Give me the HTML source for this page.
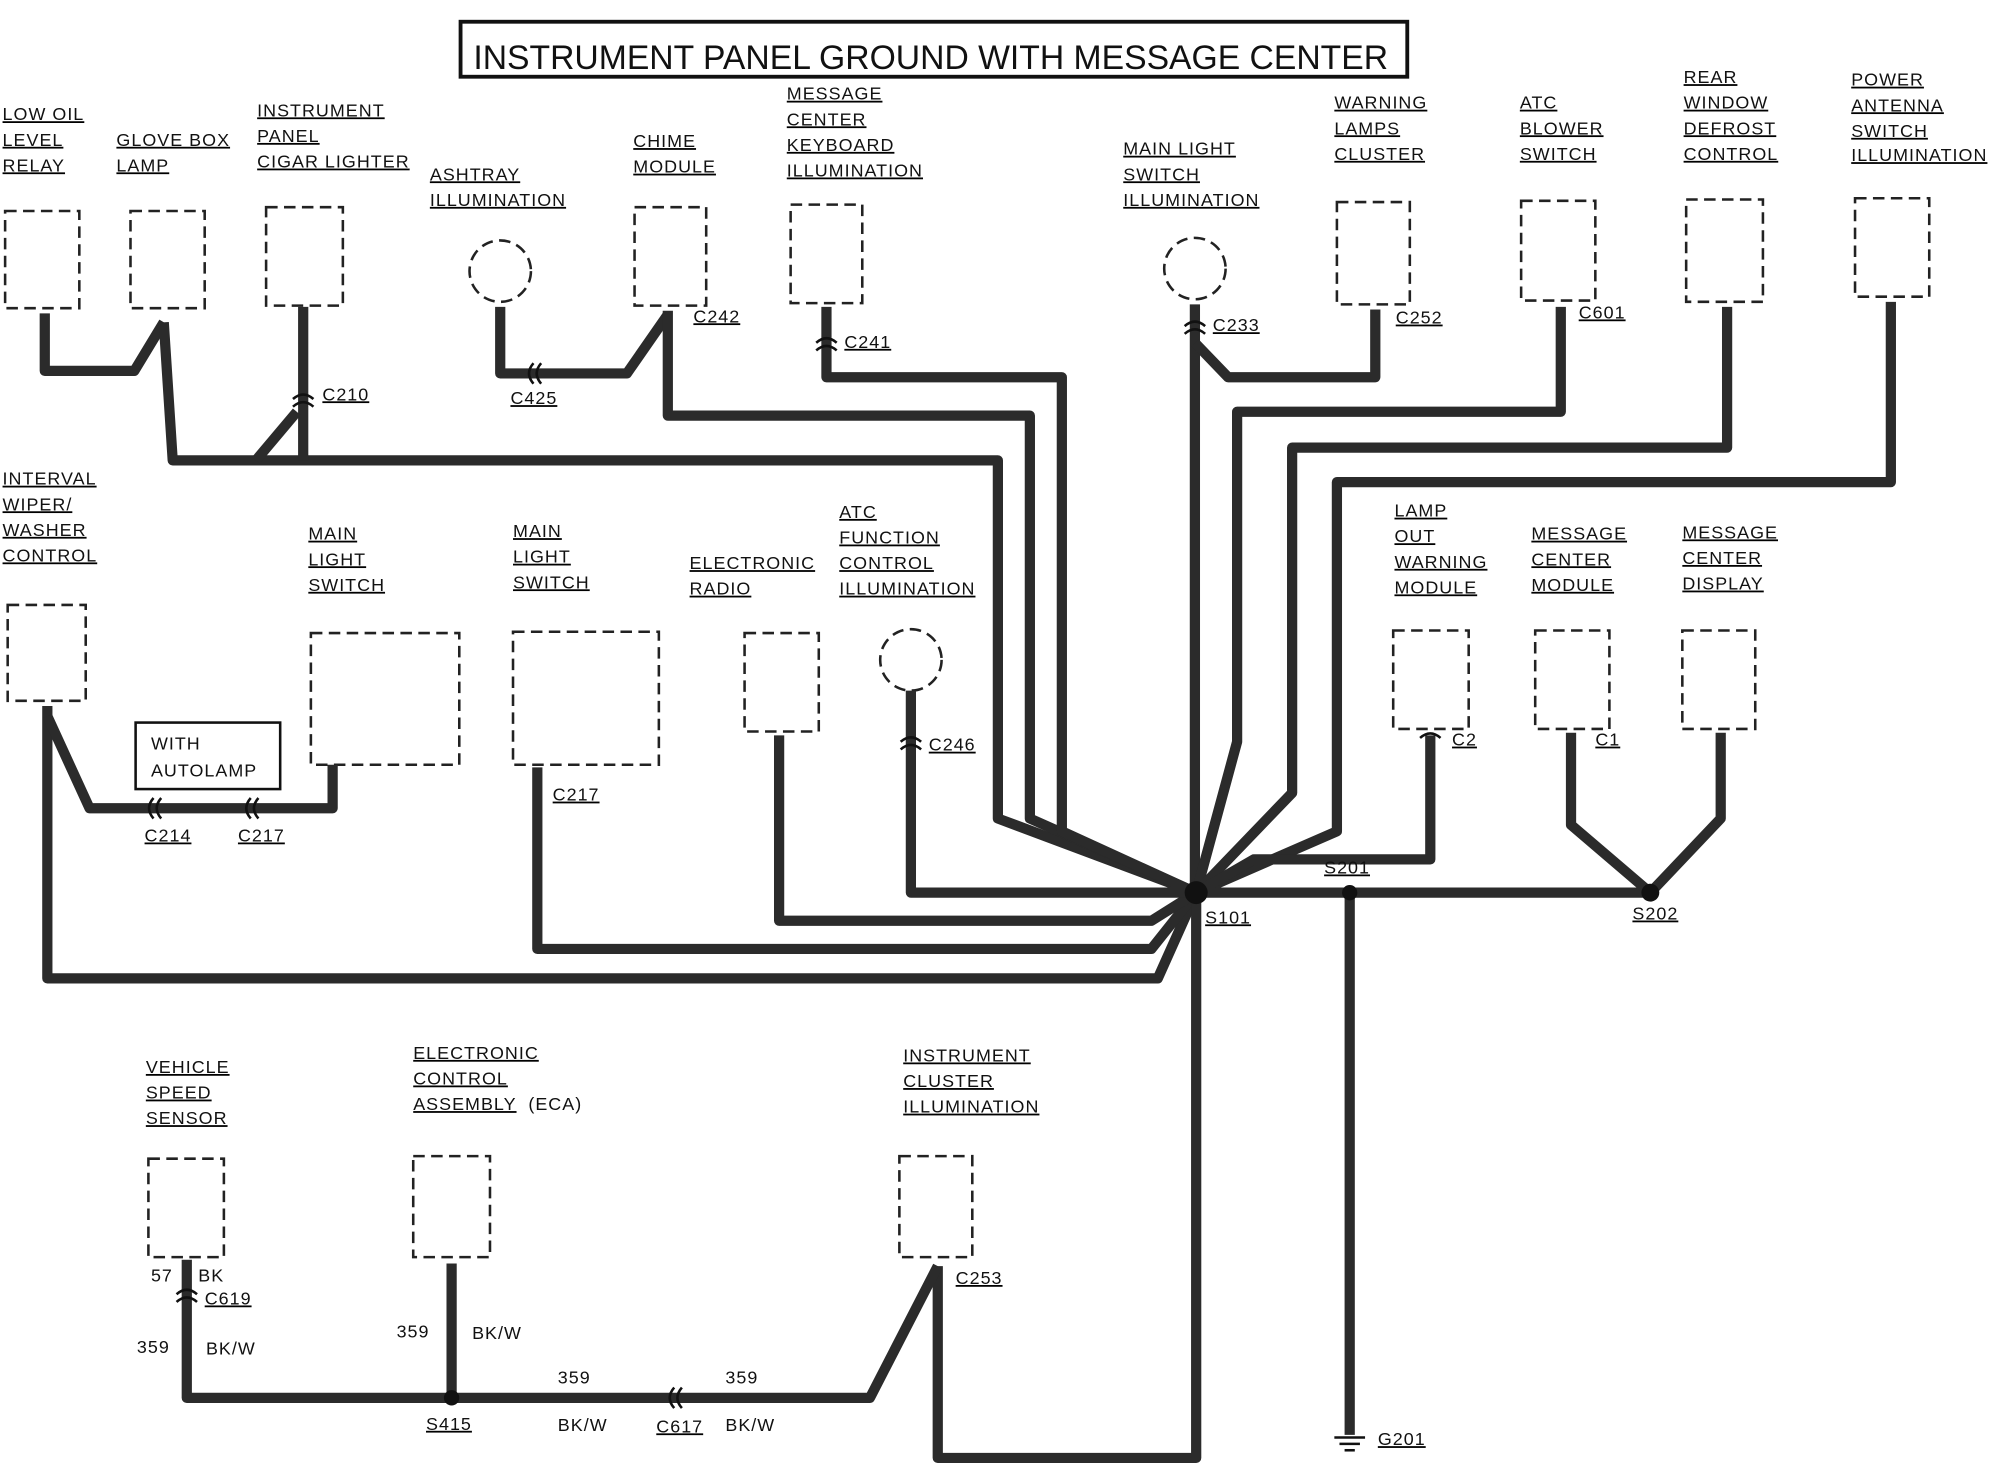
<!DOCTYPE html>
<html><head><meta charset="utf-8"><style>
html,body{margin:0;padding:0;background:#fff}
svg{display:block}
text{font-family:"Liberation Sans",sans-serif;font-size:14px;fill:#111;letter-spacing:0.8px}
.l{text-decoration:underline}
.b{fill:none;stroke:#222;stroke-width:2;stroke-dasharray:9,5}
.w{fill:none;stroke:#2b2b2b;stroke-width:8;stroke-linejoin:round}
</style></head><body>
<svg width="2006" height="1472" viewBox="0 0 1568 1151" preserveAspectRatio="none" xmlns="http://www.w3.org/2000/svg">
<rect x="360" y="17" width="740" height="43" fill="none" stroke="#111" stroke-width="3"/>
<text x="370" y="54" textLength="715" lengthAdjust="spacingAndGlyphs" style="font-size:27px;letter-spacing:0">INSTRUMENT PANEL GROUND WITH MESSAGE CENTER</text>

<!-- boxes -->
<rect class="b" x="4" y="165" width="58" height="76"/>
<rect class="b" x="102" y="165" width="58" height="76"/>
<rect class="b" x="208" y="162" width="60" height="77"/>
<circle class="b" cx="391" cy="212" r="24"/>
<rect class="b" x="496" y="162" width="56" height="77"/>
<rect class="b" x="618" y="160" width="56" height="77"/>
<circle class="b" cx="934" cy="210" r="24"/>
<rect class="b" x="1045" y="158" width="57" height="80"/>
<rect class="b" x="1189" y="157" width="58" height="78"/>
<rect class="b" x="1318" y="156" width="60" height="80"/>
<rect class="b" x="1450" y="155" width="58" height="77"/>
<rect class="b" x="6" y="473" width="61" height="75"/>
<rect class="b" x="243" y="495" width="116" height="103"/>
<rect class="b" x="401" y="494" width="114" height="104"/>
<rect class="b" x="582" y="495" width="58" height="77"/>
<circle class="b" cx="712" cy="516" r="24"/>
<rect class="b" x="1089" y="493" width="59" height="77"/>
<rect class="b" x="1200" y="493" width="58" height="77"/>
<rect class="b" x="1315" y="493" width="57" height="77"/>
<rect class="b" x="116" y="906" width="59" height="77"/>
<rect class="b" x="323" y="904" width="60" height="79"/>
<rect class="b" x="703" y="904" width="57" height="79"/>
<rect x="106" y="565" width="113" height="52" fill="none" stroke="#111" stroke-width="2"/>
<text x="118" y="586">WITH</text><text x="118" y="607">AUTOLAMP</text>

<!-- wires -->
<g class="w">
<polyline points="35,245 35,290 105,290 128,252"/>
<polyline points="128,252 135,360 780,360 780,640 935,698"/>
<polyline points="237,240 237,360"/>
<polyline points="200,360 232,322"/>
<polyline points="391,240 391,292 490,292 522,246"/>
<polyline points="522,243 522,325 805,325 805,640 935,698"/>
<polyline points="646,240 646,295 830,295 830,650 935,698"/>
<polyline points="934,238 934,698"/>
<polyline points="1075,242 1075,295 960,295 934,268"/>
<polyline points="1220,240 1220,322 967,322 967,580 935,698"/>
<polyline points="1350,240 1350,350 1010,350 1010,620 935,698"/>
<polyline points="1478,236 1478,377 1045,377 1045,650 935,698"/>
<polyline points="37,552 37,765 905,765 935,698"/>
<polyline points="37,560 70,632 260,632 260,598"/>
<polyline points="420,600 420,742 900,742 935,698"/>
<polyline points="609,575 609,720 900,720 935,698"/>
<polyline points="712,540 712,698 935,698"/>
<polyline points="1118,575 1118,672 980,672 935,698"/>
<polyline points="935,698 1290,698"/>
<polyline points="1228,573 1228,645 1290,698 1345,640 1345,573"/>
<polyline points="1055,698 1055,1122"/>
<polyline points="935,698 935,1140 733,1140 733,990"/>
<polyline points="733,990 680,1093 146,1093 146,985"/>
<polyline points="353,988 353,1093"/>
</g>
<!-- connector marks -->
<g fill="none" stroke="#111" stroke-width="2">
<path d="M229,312 q8,-7 16,0 M229,318 q8,-7 16,0"/>
<path d="M417,284 q-7,8 0,16 M423,284 q-7,8 0,16"/>
<path d="M638,268 q8,-7 16,0 M638,274 q8,-7 16,0"/>
<path d="M926,255 q8,-7 16,0 M926,261 q8,-7 16,0"/>
<path d="M120,624 q-7,8 0,16 M126,624 q-7,8 0,16"/>
<path d="M196,624 q-7,8 0,16 M202,624 q-7,8 0,16"/>
<path d="M704,580 q8,-7 16,0 M704,586 q8,-7 16,0"/>
<path d="M1110,577 q8,-7 16,0"/>
<path d="M138,1012 q8,-7 16,0 M138,1018 q8,-7 16,0"/>
<path d="M527,1085 q-7,8 0,16 M533,1085 q-7,8 0,16"/>
</g>
<g fill="#111">
<circle cx="935" cy="698" r="9"/><circle cx="1055" cy="698" r="6"/><circle cx="1290" cy="698" r="7"/><circle cx="353" cy="1093" r="6"/>
</g>
<g stroke="#111" stroke-width="2">
<line x1="1043" y1="1124" x2="1067" y2="1124"/><line x1="1047" y1="1129" x2="1063" y2="1129"/><line x1="1051" y1="1134" x2="1059" y2="1134"/>
</g>

<!-- labels -->
<g class="l">
<text x="2" y="94">LOW OIL</text><text x="2" y="114">LEVEL</text><text x="2" y="134">RELAY</text>
<text x="91" y="114">GLOVE BOX</text><text x="91" y="134">LAMP</text>
<text x="201" y="91">INSTRUMENT</text><text x="201" y="111">PANEL</text><text x="201" y="131">CIGAR LIGHTER</text>
<text x="336" y="141">ASHTRAY</text><text x="336" y="161">ILLUMINATION</text>
<text x="495" y="115">CHIME</text><text x="495" y="135">MODULE</text>
<text x="615" y="78">MESSAGE</text><text x="615" y="98">CENTER</text><text x="615" y="118">KEYBOARD</text><text x="615" y="138">ILLUMINATION</text>
<text x="878" y="121">MAIN LIGHT</text><text x="878" y="141">SWITCH</text><text x="878" y="161">ILLUMINATION</text>
<text x="1043" y="85">WARNING</text><text x="1043" y="105">LAMPS</text><text x="1043" y="125">CLUSTER</text>
<text x="1188" y="85">ATC</text><text x="1188" y="105">BLOWER</text><text x="1188" y="125">SWITCH</text>
<text x="1316" y="65">REAR</text><text x="1316" y="85">WINDOW</text><text x="1316" y="105">DEFROST</text><text x="1316" y="125">CONTROL</text>
<text x="1447" y="67">POWER</text><text x="1447" y="87">ANTENNA</text><text x="1447" y="107">SWITCH</text><text x="1447" y="126">ILLUMINATION</text>
<text x="2" y="379">INTERVAL</text><text x="2" y="399">WIPER/</text><text x="2" y="419">WASHER</text><text x="2" y="439">CONTROL</text>
<text x="241" y="422">MAIN</text><text x="241" y="442">LIGHT</text><text x="241" y="462">SWITCH</text>
<text x="401" y="420">MAIN</text><text x="401" y="440">LIGHT</text><text x="401" y="460">SWITCH</text>
<text x="539" y="445">ELECTRONIC</text><text x="539" y="465">RADIO</text>
<text x="656" y="405">ATC</text><text x="656" y="425">FUNCTION</text><text x="656" y="445">CONTROL</text><text x="656" y="465">ILLUMINATION</text>
<text x="1090" y="404">LAMP</text><text x="1090" y="424">OUT</text><text x="1090" y="444">WARNING</text><text x="1090" y="464">MODULE</text>
<text x="1197" y="422">MESSAGE</text><text x="1197" y="442">CENTER</text><text x="1197" y="462">MODULE</text>
<text x="1315" y="421">MESSAGE</text><text x="1315" y="441">CENTER</text><text x="1315" y="461">DISPLAY</text>
<text x="114" y="839">VEHICLE</text><text x="114" y="859">SPEED</text><text x="114" y="879">SENSOR</text>
<text x="323" y="828">ELECTRONIC</text><text x="323" y="848">CONTROL</text><text x="323" y="868">ASSEMBLY</text>
<text x="706" y="830">INSTRUMENT</text><text x="706" y="850">CLUSTER</text><text x="706" y="870">ILLUMINATION</text>
<text x="252" y="313">C210</text><text x="399" y="316">C425</text><text x="542" y="252">C242</text><text x="660" y="272">C241</text>
<text x="948" y="259">C233</text><text x="1091" y="253">C252</text><text x="1234" y="249">C601</text>
<text x="113" y="658">C214</text><text x="186" y="658">C217</text><text x="432" y="626">C217</text><text x="726" y="587">C246</text>
<text x="1135" y="583">C2</text><text x="1247" y="583">C1</text><text x="1035" y="683">S201</text><text x="942" y="722">S101</text>
<text x="1276" y="719">S202</text><text x="1077" y="1130">G201</text><text x="747" y="1004">C253</text>
<text x="160" y="1020">C619</text><text x="333" y="1118">S415</text><text x="513" y="1120">C617</text>
</g>
<text x="413" y="868">(ECA)</text>
<text x="118" y="1002">57</text><text x="155" y="1002">BK</text>
<text x="107" y="1058">359</text><text x="161" y="1059">BK/W</text>
<text x="310" y="1046">359</text><text x="369" y="1047">BK/W</text>
<text x="436" y="1082">359</text><text x="436" y="1119">BK/W</text>
<text x="567" y="1082">359</text><text x="567" y="1119">BK/W</text>
</svg>
</body></html>
